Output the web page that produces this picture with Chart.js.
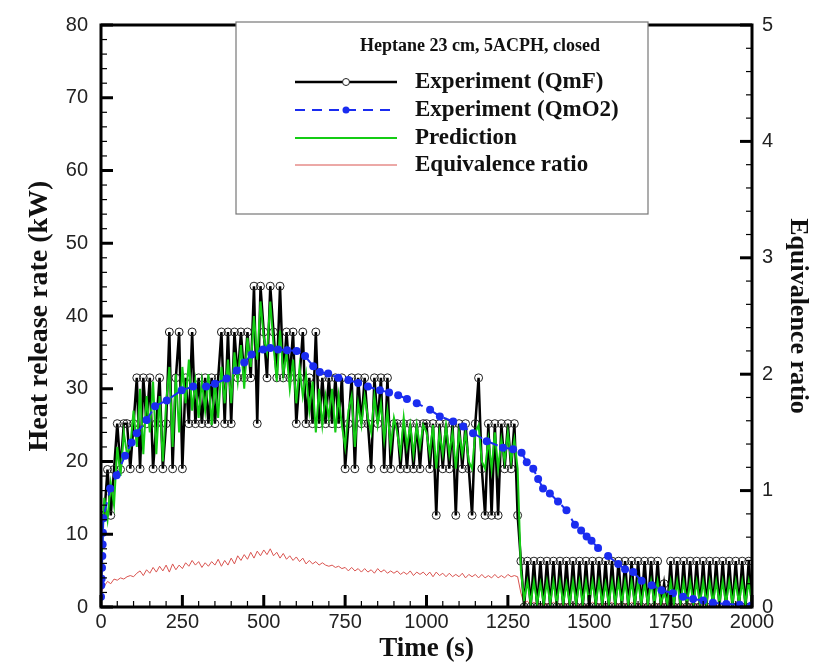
<!DOCTYPE html>
<html>
<head>
<meta charset="utf-8">
<script src="https://cdn.jsdelivr.net/npm/chart.js@4"></script>
<style>
  body { margin: 0; background: #fff; }
  #wrap { width: 818px; height: 665px; }
</style>
</head>
<body>
<div id="wrap"><canvas id="hrrChart" width="818" height="665"></canvas></div>
<script>
// tijd (s) voor QmF, voorspelling en equivalentieverhouding
const timeS = [
  0, 10, 20, 30, 40, 50, 60, 70, 80, 90,
  100, 110, 120, 130, 140, 150, 160, 170, 180, 190,
  200, 210, 220, 230, 240, 250, 260, 270, 280, 290,
  300, 310, 320, 330, 340, 350, 360, 370, 380, 390,
  400, 410, 420, 430, 440, 450, 460, 470, 480, 490,
  500, 510, 520, 530, 540, 550, 560, 570, 580, 590,
  600, 610, 620, 630, 640, 650, 660, 670, 680, 690,
  700, 710, 720, 730, 740, 750, 760, 770, 780, 790,
  800, 810, 820, 830, 840, 850, 860, 870, 880, 890,
  900, 910, 920, 930, 940, 950, 960, 970, 980, 990,
  1000, 1010, 1020, 1030, 1040, 1050, 1060, 1070, 1080, 1090,
  1100, 1110, 1120, 1130, 1140, 1150, 1160, 1170, 1180, 1190,
  1200, 1210, 1220, 1230, 1240, 1250, 1260, 1270, 1280, 1290,
  1300, 1310, 1320, 1330, 1340, 1350, 1360, 1370, 1380, 1390,
  1400, 1410, 1420, 1430, 1440, 1450, 1460, 1470, 1480, 1490,
  1500, 1510, 1520, 1530, 1540, 1550, 1560, 1570, 1580, 1590,
  1600, 1610, 1620, 1630, 1640, 1650, 1660, 1670, 1680, 1690,
  1700, 1710, 1720, 1730, 1740, 1750, 1760, 1770, 1780, 1790,
  1800, 1810, 1820, 1830, 1840, 1850, 1860, 1870, 1880, 1890,
  1900, 1910, 1920, 1930, 1940, 1950, 1960, 1970, 1980, 1990,
  2000
];

// Experiment (QmF), kW
const qmF = [
  12.6, 12.6, 18.9, 12.6, 18.9, 25.2, 18.9, 25.2, 25.2, 19,
  25.2, 31.5, 19, 31.5, 25.2, 31.5, 19, 25.2, 31.5, 19,
  25.2, 37.8, 19, 31.5, 37.8, 19, 31.5, 25.2, 37.8, 25.2,
  31.5, 25.2, 31.5, 25.2, 31.5, 25.2, 31.5, 37.8, 25.2, 37.8,
  25.2, 37.8, 31.5, 37.8, 31.5, 37.8, 31.5, 44.1, 25.2, 44.1,
  37.8, 31.5, 44.1, 37.8, 31.5, 44.1, 31.5, 37.8, 31.5, 37.8,
  25.2, 31.5, 37.8, 25.2, 31.5, 25.2, 37.8, 25.2, 31.5, 25.2,
  31.5, 25.2, 31.5, 25.2, 31.5, 19, 25.2, 31.5, 19, 31.5,
  25.2, 31.5, 25.2, 19, 31.5, 25.2, 31.5, 19, 31.5, 19,
  25.2, 25.2, 19, 25.2, 19, 25.2, 19, 25.2, 19, 25.2,
  25.2, 19, 25.2, 12.6, 25.2, 19, 25.2, 19, 25.2, 12.6,
  25.2, 19, 25.2, 19, 12.6, 25.2, 31.5, 19, 12.6, 25.2,
  12.6, 25.2, 12.6, 25.2, 19, 25.2, 19, 25.2, 12.6, 6.3,
  0, 6.3, 0, 6.3, 0, 6.3, 0, 6.3, 0, 6.3,
  0, 6.3, 0, 6.3, 0, 6.3, 0, 6.3, 0, 6.3,
  0, 6.3, 0, 6.3, 0, 6.3, 0, 6.3, 0, 6.3,
  0, 6.3, 0, 6.3, 0, 6.3, 0, 6.3, 0, 6.3,
  0, 6.3, 0, 3.2, 0, 6.3, 0, 6.3, 0, 6.3,
  0, 6.3, 0, 6.3, 0, 6.3, 0, 6.3, 0, 6.3,
  0, 6.3, 0, 6.3, 0, 6.3, 0, 6.3, 0, 6.3,
  0
];

// Prediction, kW
const prediction = [
  5, 15, 12, 17, 14, 22, 18, 24, 21, 22,
  27, 22, 30, 21, 29, 24, 31, 21, 29, 20,
  28, 33, 22, 32, 24, 33, 28, 34, 27, 31,
  26, 31, 27, 32, 25, 31, 26, 33, 28, 34,
  28, 35, 31, 36, 30, 37, 33, 40, 34, 42,
  37, 35, 42, 36, 31, 38, 32, 35, 30, 34,
  28, 33, 29, 32, 27, 31, 24, 30, 25, 29,
  26, 30, 24, 29, 25, 22, 27, 29, 22, 28,
  25, 29, 26, 24, 29, 25, 28, 23, 27, 22,
  26, 24, 21, 26, 22, 25, 21, 25, 22, 25,
  24, 21, 25, 19, 24, 21, 25, 21, 24, 19,
  24, 21, 24, 20, 19, 24, 25, 20, 19, 23,
  19, 24, 19, 23, 20, 24, 20, 23, 19, 5,
  1, 3.5, 0.5, 3.5, 0.5, 3.2, 0.5, 3.5, 0.5, 3.5,
  0.5, 3.5, 0.5, 3.2, 0.5, 3.5, 0.5, 3.5, 0.5, 3.5,
  0.5, 3.5, 0.5, 3.5, 0.5, 3.2, 0.5, 3.5, 0.5, 3.5,
  0.5, 3.5, 0.5, 3.5, 0.5, 3.5, 0.5, 3.2, 0.5, 3.5,
  0.5, 3.5, 0.5, 2, 0.5, 3.5, 0.5, 3.5, 0.5, 3.5,
  0.5, 3.5, 0.5, 3.5, 0.5, 3.5, 0.5, 3.5, 0.5, 3.5,
  0.5, 3.5, 0.5, 3.5, 0.5, 3.5, 0.5, 3.5, 0.5, 3.5,
  0.5
];

// Equivalence ratio (rechter as)
const eqRatio = [
  0.12, 0.18, 0.22, 0.2, 0.24, 0.23, 0.25, 0.24, 0.26, 0.27,
  0.26, 0.29, 0.31, 0.27, 0.32, 0.29, 0.34, 0.3, 0.35, 0.31,
  0.36, 0.3, 0.37, 0.32, 0.36, 0.33, 0.38, 0.35, 0.4, 0.36,
  0.39, 0.34, 0.38, 0.35, 0.39, 0.36, 0.41, 0.35, 0.4, 0.36,
  0.42, 0.37, 0.44, 0.4, 0.45, 0.41, 0.47, 0.42, 0.48, 0.44,
  0.49, 0.45, 0.5, 0.44, 0.47, 0.42, 0.46, 0.41, 0.44, 0.4,
  0.43, 0.39, 0.42, 0.37, 0.4, 0.37, 0.39, 0.36, 0.38, 0.36,
  0.35, 0.36, 0.34, 0.35, 0.33, 0.34, 0.31, 0.34, 0.31, 0.33,
  0.3, 0.33, 0.3, 0.32, 0.29, 0.33, 0.3, 0.32, 0.29, 0.31,
  0.29, 0.31, 0.28, 0.3, 0.28, 0.31, 0.27, 0.3, 0.28, 0.3,
  0.27, 0.3, 0.26, 0.3, 0.27, 0.29, 0.26, 0.29, 0.26, 0.28,
  0.26, 0.29, 0.25, 0.28, 0.26, 0.28, 0.25, 0.28, 0.25, 0.27,
  0.25, 0.28, 0.25, 0.27, 0.25, 0.28, 0.26, 0.27, 0.26, 0.12,
  0.03, 0.05, 0.02, 0.04, 0.02, 0.03, 0.01, 0.03, 0.02, 0.04,
  0.02, 0.03, 0.01, 0.03, 0.02, 0.04, 0.01, 0.02, 0.03, 0.01,
  0.02, 0.04, 0.02, 0.03, 0.01, 0.03, 0.02, 0.04, 0.01, 0.03,
  0.02, 0.03, 0.01, 0.04, 0.02, 0.03, 0.01, 0.02, 0.03, 0.01,
  0.02, 0.03, 0.01, 0.03, 0.02, 0.04, 0.01, 0.02, 0.03, 0.01,
  0.02, 0.03, 0.01, 0.03, 0.02, 0.03, 0.01, 0.02, 0.03, 0.01,
  0.02, 0.03, 0.01, 0.02, 0.02, 0.03, 0.01, 0.02, 0.02, 0.01,
  0.01
];

// Experiment (QmO2): eigen tijdstippen
const timeO2 = [
  0, 1, 2, 3, 4, 5, 6, 7, 28, 48, 74, 94, 110, 140, 166, 202, 248, 283, 323, 350,
  386, 417, 440, 463, 498, 520, 544, 572, 601, 627, 652, 672, 698, 729, 760, 790,
  820, 857, 885, 913, 940, 970, 1011, 1041, 1082, 1113, 1143, 1185, 1235, 1266,
  1292, 1308, 1328, 1343, 1358, 1379, 1404, 1430, 1456, 1475, 1492, 1507, 1527,
  1558, 1589, 1610, 1635, 1661, 1692, 1722, 1757, 1788, 1819, 1850, 1880, 1921,
  1962, 1998
];
const qmO2 = [
  1.4, 3.0, 3.9, 5.4, 7.0, 8.6, 10.2, 12.2, 16.3, 18.1, 20.8, 22.6, 23.9, 25.7,
  27.6, 28.4, 29.8, 30.3, 30.3, 30.7, 31.4, 32.5, 33.6, 34.7, 35.4, 35.6, 35.4,
  35.3, 35.2, 34.5, 33.1, 32.3, 32.1, 31.5, 31.2, 30.8, 30.3, 29.8, 29.5, 29.1,
  28.6, 28.0, 27.1, 26.2, 25.5, 24.8, 23.9, 22.8, 21.9, 21.7, 21.2, 19.9, 19.0,
  17.6, 16.3, 15.6, 14.5, 13.3, 11.3, 10.5, 9.7, 9.1, 8.1, 7.0, 5.9, 5.2, 4.8,
  3.6, 3.0, 2.3, 1.9, 1.4, 1.1, 0.9, 0.6, 0.4, 0.3, 0.2
];

const xTicks = [0, 250, 500, 750, 1000, 1250, 1500, 1750, 2000];
const legendTitle = "Heptane 23 cm, 5ACPH, closed";

function pts(xs, ys) {
    return xs.map((x, i) => ({ x: x, y: ys[i] }));
}

const SERIF = "'Liberation Serif', 'Times New Roman', serif";
const SANS = "'Liberation Sans', Arial, sans-serif";

// Ticks naar binnen + kader
const innerTicks = {
    id: "innerTicks",
    afterDraw(chart) {
        const ctx = chart.ctx;
        const a = chart.chartArea;
        const sx = chart.scales.x, sy = chart.scales.y, sy2 = chart.scales.y2;
        ctx.save();
        ctx.strokeStyle = "#000";

        function tick(x1, y1, x2, y2, w) {
            ctx.lineWidth = w;
            ctx.beginPath();
            ctx.moveTo(x1, y1);
            ctx.lineTo(x2, y2);
            ctx.stroke();
        }
        for (let v = 0; v <= 2000; v += 50) {
            const px = sx.getPixelForValue(v);
            const major = v % 250 === 0;
            tick(px, a.bottom, px, a.bottom - (major ? 12 : 6), major ? 3 : 1.2);
        }
        for (let v = 0; v <= 80; v += 2) {
            const py = sy.getPixelForValue(v);
            const major = v % 10 === 0;
            tick(a.left, py, a.left + (major ? 12 : 6), py, major ? 3 : 1.2);
        }
        for (let k = 0; k <= 25; k++) {
            const py = sy2.getPixelForValue(k / 5);
            const major = k % 5 === 0;
            tick(a.right, py, a.right - (major ? 12 : 6), py, major ? 3 : 1.2);
        }
        ctx.lineWidth = 3;
        ctx.strokeRect(a.left, a.top, a.right - a.left, a.bottom - a.top);
        ctx.restore();
    }
};

// Legenda zoals in de figuur
const boxLegend = {
    id: "boxLegend",
    afterDraw(chart) {
        const ctx = chart.ctx;
        ctx.save();
        ctx.fillStyle = "#fff";
        ctx.fillRect(236, 22, 412, 192);
        ctx.strokeStyle = "#777";
        ctx.lineWidth = 1.2;
        ctx.strokeRect(236, 22, 412, 192);

        ctx.fillStyle = "#111";
        ctx.textBaseline = "middle";
        ctx.textAlign = "center";
        ctx.font = "bold 18px " + SERIF;
        ctx.fillText(legendTitle, 480, 46);

        const ys = [82, 110, 138, 165];
        ctx.textAlign = "left";
        ctx.font = "bold 23px " + SERIF;
        chart.data.datasets.forEach((ds, i) => {
            const y = ys[i];
            ctx.strokeStyle = ds.borderColor;
            ctx.lineWidth = ds.borderWidth;
            ctx.setLineDash(ds.borderDash || []);
            ctx.beginPath();
            ctx.moveTo(295, y);
            ctx.lineTo(397, y);
            ctx.stroke();
            ctx.setLineDash([]);
            if (ds.pointRadius > 0) {
                ctx.beginPath();
                ctx.arc(346, y, 3.5, 0, Math.PI * 2);
                if (ds.pointBackgroundColor !== "rgba(0,0,0,0)") {
                    ctx.fillStyle = ds.pointBackgroundColor;
                    ctx.fill();
                } else {
                    ctx.fillStyle = "#fff";
                    ctx.fill();
                    ctx.lineWidth = 1;
                    ctx.strokeStyle = ds.pointBorderColor;
                    ctx.stroke();
                }
            }
            ctx.fillStyle = "#111";
            ctx.fillText(ds.label, 415, y);
        });
        ctx.restore();
    }
};

document.addEventListener("DOMContentLoaded", function () {
    const ctx = document.getElementById("hrrChart").getContext("2d");
    new Chart(ctx, {
        type: "line",
        data: {
            datasets: [{
                label: "Experiment (QmF)",
                data: pts(timeS, qmF),
                borderColor: "#000",
                borderWidth: 2.5,
                pointRadius: 4,
                pointBorderWidth: 1,
                pointBorderColor: "#222",
                pointBackgroundColor: "rgba(0,0,0,0)",
                yAxisID: "y",
                order: 3
            }, {
                label: "Experiment (QmO2)",
                data: pts(timeO2, qmO2),
                borderColor: "#1a2cf0",
                borderWidth: 2,
                borderDash: [10, 7],
                pointRadius: 4,
                pointBorderWidth: 0,
                pointBorderColor: "#1a2cf0",
                pointBackgroundColor: "#1a2cf0",
                yAxisID: "y",
                order: 1
            }, {
                label: "Prediction",
                data: pts(timeS, prediction),
                borderColor: "#14cc14",
                borderWidth: 2,
                pointRadius: 0,
                yAxisID: "y",
                order: 2
            }, {
                label: "Equivalence ratio",
                data: pts(timeS, eqRatio),
                borderColor: "#d9534f",
                borderWidth: 1,
                pointRadius: 0,
                yAxisID: "y2",
                order: 4
            }]
        },
        options: {
            responsive: false,
            animation: false,
            layout: { padding: { top: 15, left: 0, right: 0, bottom: 0 } },
            scales: {
                x: {
                    type: "linear",
                    min: 0,
                    max: 2000,
                    afterBuildTicks: s => { s.ticks = xTicks.map(v => ({ value: v })); },
                    afterFit: s => { s.height = 58; },
                    ticks: { color: "#222", font: { family: SANS, size: 20 }, padding: 3, maxRotation: 0,
                             callback: v => String(v) },
                    grid: { display: false, drawTicks: false },
                    border: { display: false },
                    title: { display: true, text: "Time (s)", color: "#111",
                             font: { family: SERIF, size: 27, weight: "bold" }, padding: { top: 0, bottom: 0 } }
                },
                y: {
                    position: "left",
                    min: 0,
                    max: 80,
                    afterFit: s => { s.width = 101; },
                    ticks: { stepSize: 10, color: "#222", font: { family: SANS, size: 20 }, padding: 13 },
                    grid: { display: false, drawTicks: false },
                    border: { display: false },
                    title: { display: true, text: "Heat release rate (kW)", color: "#111",
                             font: { family: SERIF, size: 28, weight: "bold" }, padding: { top: 23, bottom: 0 } }
                },
                y2: {
                    position: "right",
                    min: 0,
                    max: 5,
                    afterFit: s => { s.width = 66; },
                    ticks: { stepSize: 1, color: "#222", font: { family: SANS, size: 20 }, padding: 10 },
                    grid: { display: false, drawTicks: false },
                    border: { display: false },
                    title: { display: true, text: "Equivalence ratio", color: "#111",
                             font: { family: SERIF, size: 26, weight: "bold" }, padding: { top: 5, bottom: 0 } }
                }
            },
            plugins: {
                legend: { display: false },
                tooltip: { enabled: false }
            }
        },
        plugins: [innerTicks, boxLegend]
    });
});
</script>
</body>
</html>
